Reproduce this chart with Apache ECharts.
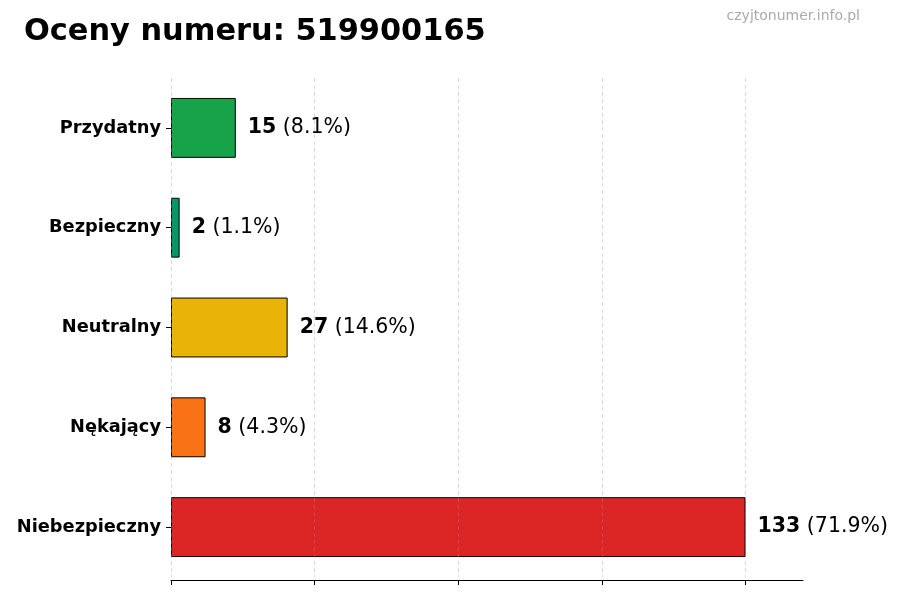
<!DOCTYPE html>
<html>
<head>
<meta charset="utf-8">
<script src="https://cdn.jsdelivr.net/npm/echarts@6/dist/echarts.min.js"></script>
<style>
  html, body { margin: 0; padding: 0; background: #fff; }
  #chart { width: 900px; height: 600px; }
</style>
</head>
<body>
<div id="chart"></div>
<script>
const categories = ['Przydatny', 'Bezpieczny', 'Neutralny', 'Nękający', 'Niebezpieczny'];
const counts = [15, 2, 27, 8, 133];
const percents = ['8.1%', '1.1%', '14.6%', '4.3%', '71.9%'];
const barColors = ['#16a34a', '#059669', '#eab308', '#f97316', '#dc2626'];
const xTicks = [0, 33.25, 66.5, 99.75, 133];

const chart = echarts.init(document.getElementById('chart'));

chart.setOption({
  backgroundColor: '#fff',
  animation: false,
  textStyle: { fontFamily: 'DejaVu Sans' },
  title: [
    {
      text: 'Oceny numeru: 519900165',
      left: 19, top: 12,
      textStyle: { fontSize: 30.4, fontWeight: 'bold', color: '#000', fontFamily: 'DejaVu Sans' }
    },
    {
      text: 'czyjtonumer.info.pl',
      right: 35, top: 4,
      textStyle: { fontSize: 14, fontWeight: 'normal', color: '#aaa', fontFamily: 'DejaVu Sans' }
    }
  ],
  grid: { left: 171, right: 97, top: 78, bottom: 23 },
  xAxis: {
    type: 'value',
    min: 0,
    max: 146.3,
    interval: 33.25,
    offset: 3,
    axisLine: { show: true, lineStyle: { color: '#000', width: 1 } },
    axisTick: { show: true, length: 5, customValues: xTicks, lineStyle: { color: '#000' } },
    axisLabel: { show: false },
    splitLine: { show: false }
  },
  yAxis: {
    type: 'category',
    inverse: true,
    data: categories,
    axisLine: { show: false },
    axisTick: { show: true, alignWithLabel: true, length: 5, lineStyle: { color: '#000' } },
    axisLabel: { fontSize: 17.8, fontWeight: 'bold', color: '#000', margin: 10 },
    splitLine: { show: false }
  },
  series: [{
    type: 'bar',
    barWidth: '60%',
    data: counts.map((v, i) => ({
      value: v,
      itemStyle: { color: barColors[i], borderColor: '#000', borderWidth: 1 }
    })),
    label: {
      show: true,
      position: 'right',
      distance: 12,
      formatter: p => '{b|' + p.value + '}{n| (' + percents[p.dataIndex] + ')}',
      rich: {
        b: { fontSize: 20.5, fontWeight: 'bold', color: '#000' },
        n: { fontSize: 20.5, color: '#000' }
      }
    },
    markLine: {
      silent: true,
      symbol: 'none',
      label: { show: false },
      lineStyle: { color: 'rgba(150,150,150,0.45)', type: [4, 3], width: 0.8 },
      data: xTicks.map(v => ({ xAxis: v }))
    }
  }]
});
</script>
</body>
</html>
